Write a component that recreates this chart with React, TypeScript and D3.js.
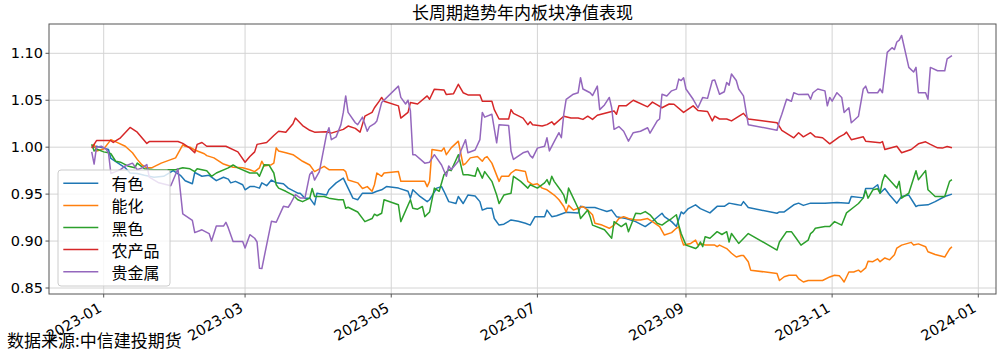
import React from 'react';
import * as d3 from 'd3';

const TITLE = '长周期趋势年内板块净值表现';
const SOURCE = '数据来源:中信建投期货';
const seriesNames = ['有色', '能化', '黑色', '农产品', '贵金属'];
const seriesColors = ['#1f77b4', '#ff7f0e', '#2ca02c', '#d62728', '#9467bd'];
const yTicks = [0.85, 0.9, 0.95, 1.0, 1.05, 1.1];
const xTickLabels = ['2023-01', '2023-03', '2023-05', '2023-07', '2023-09', '2023-11', '2024-01'];

type P = [string, number];

const youse: P[] = [
  ['2022-12-27', 1.001], ['2022-12-28', 1.0], ['2022-12-29', 1.001], ['2023-01-01', 0.999], ['2023-01-03', 0.9975],
  ['2023-01-04', 0.988], ['2023-01-07', 0.983], ['2023-01-10', 0.978], ['2023-01-12', 0.9725], ['2023-01-15', 0.972],
  ['2023-01-18', 0.97], ['2023-01-22', 0.968], ['2023-01-26', 0.969], ['2023-01-30', 0.975], ['2023-02-02', 0.97],
  ['2023-02-04', 0.9643], ['2023-02-07', 0.961], ['2023-02-08', 0.973], ['2023-02-11', 0.969], ['2023-02-14', 0.97],
  ['2023-02-17', 0.9643], ['2023-02-20', 0.968], ['2023-02-22', 0.966], ['2023-02-23', 0.962], ['2023-02-25', 0.9636],
  ['2023-02-28', 0.96], ['2023-03-01', 0.9546], ['2023-03-03', 0.958], ['2023-03-05', 0.958], ['2023-03-07', 0.9564],
  ['2023-03-08', 0.962], ['2023-03-10', 0.959], ['2023-03-12', 0.965], ['2023-03-14', 0.962], ['2023-03-17', 0.961],
  ['2023-03-19', 0.9564], ['2023-03-23', 0.951], ['2023-03-24', 0.951], ['2023-03-26', 0.9457], ['2023-03-28', 0.9457],
  ['2023-03-30', 0.9386], ['2023-03-31', 0.951], ['2023-04-04', 0.949], ['2023-04-05', 0.9546], ['2023-04-08', 0.962],
  ['2023-04-11', 0.967], ['2023-04-13', 0.9564], ['2023-04-15', 0.9457], ['2023-04-17', 0.944], ['2023-04-19', 0.951],
  ['2023-04-23', 0.951], ['2023-04-25', 0.953], ['2023-04-27', 0.9546], ['2023-04-29', 0.958], ['2023-05-04', 0.9564],
  ['2023-05-08', 0.953], ['2023-05-09', 0.9457], ['2023-05-10', 0.9546], ['2023-05-13', 0.9475], ['2023-05-16', 0.942],
  ['2023-05-17', 0.944], ['2023-05-20', 0.9564], ['2023-05-22', 0.958], ['2023-05-23', 0.953], ['2023-05-25', 0.942],
  ['2023-05-28', 0.94], ['2023-05-29', 0.9475], ['2023-05-31', 0.94], ['2023-06-02', 0.949], ['2023-06-05', 0.948],
  ['2023-06-07', 0.942], ['2023-06-08', 0.933], ['2023-06-10', 0.935], ['2023-06-12', 0.935], ['2023-06-13', 0.924],
  ['2023-06-15', 0.917], ['2023-06-17', 0.918], ['2023-06-20', 0.9225], ['2023-06-23', 0.921], ['2023-06-26', 0.919],
  ['2023-06-28', 0.917], ['2023-06-30', 0.926], ['2023-07-04', 0.926], ['2023-07-05', 0.933], ['2023-07-07', 0.926],
  ['2023-07-09', 0.927], ['2023-07-13', 0.9307], ['2023-07-18', 0.93], ['2023-07-19', 0.937], ['2023-07-21', 0.9357],
  ['2023-07-25', 0.9357], ['2023-07-27', 0.934], ['2023-07-30', 0.9314], ['2023-08-01', 0.933], ['2023-08-03', 0.926],
  ['2023-08-07', 0.924], ['2023-08-11', 0.9207], ['2023-08-15', 0.9154], ['2023-08-17', 0.919], ['2023-08-22', 0.9296],
  ['2023-08-23', 0.926], ['2023-08-26', 0.9207], ['2023-08-28', 0.9154], ['2023-08-30', 0.931], ['2023-08-31', 0.929],
  ['2023-09-02', 0.9346], ['2023-09-05', 0.9386], ['2023-09-07', 0.9346], ['2023-09-11', 0.93], ['2023-09-14', 0.937],
  ['2023-09-17', 0.937], ['2023-09-19', 0.9404], ['2023-09-22', 0.939], ['2023-09-24', 0.938], ['2023-09-25', 0.942],
  ['2023-09-27', 0.9357], ['2023-10-09', 0.9296], ['2023-10-10', 0.931], ['2023-10-12', 0.931], ['2023-10-16', 0.9386],
  ['2023-10-18', 0.9404], ['2023-10-20', 0.938], ['2023-10-23', 0.9404], ['2023-10-25', 0.9404], ['2023-10-29', 0.9404],
  ['2023-11-03', 0.941], ['2023-11-08', 0.9404], ['2023-11-09', 0.9475], ['2023-11-14', 0.946], ['2023-11-15', 0.956],
  ['2023-11-18', 0.956], ['2023-11-20', 0.96], ['2023-11-21', 0.951], ['2023-11-23', 0.956], ['2023-11-25', 0.949],
  ['2023-11-28', 0.9404], ['2023-11-30', 0.9475], ['2023-12-03', 0.949], ['2023-12-06', 0.9368], ['2023-12-07', 0.938],
  ['2023-12-11', 0.9386], ['2023-12-14', 0.942], ['2023-12-18', 0.9475], ['2023-12-21', 0.95],
];

const nenghua: P[] = [
  ['2022-12-27', 1.001], ['2022-12-28', 1.003], ['2022-12-29', 0.996], ['2023-01-01', 0.998], ['2023-01-03', 1.0046],
  ['2023-01-04', 1.008], ['2023-01-07', 1.0046], ['2023-01-10', 1.001], ['2023-01-13', 0.994], ['2023-01-15', 0.987],
  ['2023-01-17', 0.981], ['2023-01-19', 0.978], ['2023-01-21', 0.978], ['2023-01-25', 0.983], ['2023-01-31', 0.9886],
  ['2023-02-03', 1.0025], ['2023-02-04', 1.001], ['2023-02-06', 1.0], ['2023-02-08', 0.997], ['2023-02-12', 0.993],
  ['2023-02-13', 0.991], ['2023-02-16', 0.9886], ['2023-02-20', 0.982], ['2023-02-24', 0.9786], ['2023-02-28', 0.978],
  ['2023-03-03', 0.976], ['2023-03-05', 0.974], ['2023-03-07', 0.978], ['2023-03-08', 0.985], ['2023-03-09', 0.98],
  ['2023-03-12', 0.9814], ['2023-03-13', 0.983], ['2023-03-14', 0.9993], ['2023-03-15', 0.996], ['2023-03-18', 0.994],
  ['2023-03-21', 0.992], ['2023-03-25', 0.985], ['2023-03-28', 0.981], ['2023-03-30', 0.974], ['2023-04-03', 0.9796],
  ['2023-04-05', 0.976], ['2023-04-11', 0.976], ['2023-04-12', 0.974], ['2023-04-13', 0.965], ['2023-04-17', 0.962],
  ['2023-04-19', 0.956], ['2023-04-21', 0.958], ['2023-04-23', 0.953], ['2023-04-24', 0.96], ['2023-04-25', 0.9725],
  ['2023-04-27', 0.969], ['2023-04-28', 0.9725], ['2023-05-04', 0.974], ['2023-05-05', 0.9636], ['2023-05-06', 0.9636],
  ['2023-05-09', 0.9636], ['2023-05-15', 0.9636], ['2023-05-16', 0.958], ['2023-05-17', 0.9636], ['2023-05-18', 0.9975],
  ['2023-05-22', 0.996], ['2023-05-23', 0.9993], ['2023-05-24', 0.992], ['2023-05-26', 0.9993], ['2023-05-29', 1.0064],
  ['2023-05-31', 0.981], ['2023-06-01', 0.9825], ['2023-06-03', 0.9886], ['2023-06-06', 0.99], ['2023-06-08', 0.985],
  ['2023-06-09', 0.9886], ['2023-06-10', 0.99], ['2023-06-12', 0.983], ['2023-06-15', 0.9636], ['2023-06-16', 0.969],
  ['2023-06-19', 0.969], ['2023-06-20', 0.9725], ['2023-06-22', 0.976], ['2023-06-26', 0.974], ['2023-06-27', 0.9636],
  ['2023-06-29', 0.96], ['2023-07-01', 0.961], ['2023-07-03', 0.9564], ['2023-07-05', 0.9546], ['2023-07-08', 0.949],
  ['2023-07-10', 0.944], ['2023-07-12', 0.9368], ['2023-07-13', 0.931], ['2023-07-14', 0.938], ['2023-07-16', 0.933],
  ['2023-07-18', 0.935], ['2023-07-20', 0.9368], ['2023-07-22', 0.933], ['2023-07-24', 0.928], ['2023-07-25', 0.919],
  ['2023-07-28', 0.917], ['2023-07-31', 0.9136], ['2023-08-02', 0.917], ['2023-08-04', 0.924], ['2023-08-06', 0.926],
  ['2023-08-08', 0.924], ['2023-08-11', 0.9225], ['2023-08-13', 0.9225], ['2023-08-16', 0.924], ['2023-08-18', 0.9207],
  ['2023-08-21', 0.9154], ['2023-08-23', 0.9064], ['2023-08-26', 0.909], ['2023-08-28', 0.9136], ['2023-08-29', 0.9154],
  ['2023-08-30', 0.903], ['2023-08-31', 0.8957], ['2023-09-03', 0.8975], ['2023-09-05', 0.901], ['2023-09-06', 0.8957],
  ['2023-09-08', 0.897], ['2023-09-09', 0.8957], ['2023-09-13', 0.8957], ['2023-09-14', 0.894], ['2023-09-15', 0.8957],
  ['2023-09-18', 0.892], ['2023-09-20', 0.887], ['2023-09-22', 0.883], ['2023-09-24', 0.8846], ['2023-09-25', 0.8846],
  ['2023-09-27', 0.8779], ['2023-09-28', 0.869], ['2023-10-09', 0.8654], ['2023-10-10', 0.858], ['2023-10-12', 0.862],
  ['2023-10-14', 0.8636], ['2023-10-17', 0.8636], ['2023-10-18', 0.86], ['2023-10-20', 0.8564], ['2023-10-22', 0.858],
  ['2023-10-28', 0.858], ['2023-10-31', 0.8618], ['2023-11-02', 0.8636], ['2023-11-04', 0.863], ['2023-11-05', 0.86],
  ['2023-11-06', 0.8564], ['2023-11-08', 0.867], ['2023-11-10', 0.867], ['2023-11-12', 0.869], ['2023-11-13', 0.867],
  ['2023-11-15', 0.8714], ['2023-11-16', 0.8786], ['2023-11-18', 0.878], ['2023-11-20', 0.881], ['2023-11-21', 0.878],
  ['2023-11-23', 0.882], ['2023-11-25', 0.88], ['2023-11-27', 0.8854], ['2023-11-28', 0.8925], ['2023-11-30', 0.8957],
  ['2023-12-04', 0.8986], ['2023-12-05', 0.8957], ['2023-12-07', 0.897], ['2023-12-10', 0.894], ['2023-12-11', 0.8886],
  ['2023-12-14', 0.8857], ['2023-12-18', 0.883], ['2023-12-20', 0.8914], ['2023-12-21', 0.894],
];

const heise: P[] = [
  ['2022-12-27', 1.003], ['2022-12-28', 0.996], ['2022-12-29', 0.998], ['2023-01-01', 0.995], ['2023-01-03', 0.994],
  ['2023-01-04', 0.993], ['2023-01-06', 0.985], ['2023-01-08', 0.984], ['2023-01-11', 0.98], ['2023-01-14', 0.978],
  ['2023-01-15', 0.983], ['2023-01-18', 0.977], ['2023-01-22', 0.976], ['2023-01-28', 0.976], ['2023-01-31', 0.976],
  ['2023-02-03', 0.978], ['2023-02-06', 0.977], ['2023-02-08', 0.974], ['2023-02-09', 0.977], ['2023-02-13', 0.975],
  ['2023-02-15', 0.969], ['2023-02-17', 0.9725], ['2023-02-22', 0.978], ['2023-02-24', 0.981], ['2023-02-26', 0.978],
  ['2023-03-03', 0.9725], ['2023-03-06', 0.9725], ['2023-03-07', 0.969], ['2023-03-09', 0.9814], ['2023-03-11', 0.981],
  ['2023-03-13', 0.9725], ['2023-03-14', 0.96], ['2023-03-15', 0.9564], ['2023-03-18', 0.953], ['2023-03-21', 0.949],
  ['2023-03-23', 0.944], ['2023-03-25', 0.942], ['2023-03-28', 0.9457], ['2023-03-29', 0.956], ['2023-03-30', 0.9475],
  ['2023-04-03', 0.9475], ['2023-04-05', 0.9457], ['2023-04-09', 0.944], ['2023-04-11', 0.944], ['2023-04-12', 0.935],
  ['2023-04-13', 0.936], ['2023-04-17', 0.931], ['2023-04-20', 0.9207], ['2023-04-23', 0.924], ['2023-04-24', 0.9286],
  ['2023-04-25', 0.927], ['2023-04-27', 0.9296], ['2023-04-28', 0.944], ['2023-05-04', 0.9386], ['2023-05-05', 0.9207],
  ['2023-05-09', 0.944], ['2023-05-10', 0.935], ['2023-05-12', 0.934], ['2023-05-14', 0.9368], ['2023-05-15', 0.926],
  ['2023-05-17', 0.931], ['2023-05-19', 0.9564], ['2023-05-21', 0.953], ['2023-05-23', 0.9707], ['2023-05-25', 0.976],
  ['2023-05-26', 0.975], ['2023-05-29', 0.992], ['2023-05-31', 0.9707], ['2023-06-02', 0.9707], ['2023-06-05', 0.969],
  ['2023-06-06', 0.978], ['2023-06-08', 0.967], ['2023-06-09', 0.974], ['2023-06-12', 0.9636], ['2023-06-14', 0.949],
  ['2023-06-15', 0.94], ['2023-06-17', 0.949], ['2023-06-20', 0.951], ['2023-06-21', 0.969], ['2023-06-24', 0.9636],
  ['2023-06-27', 0.9564], ['2023-06-28', 0.96], ['2023-07-01', 0.9564], ['2023-07-04', 0.962], ['2023-07-05', 0.9654],
  ['2023-07-06', 0.96], ['2023-07-07', 0.969], ['2023-07-08', 0.9636], ['2023-07-11', 0.953], ['2023-07-12', 0.949],
  ['2023-07-13', 0.9404], ['2023-07-14', 0.9564], ['2023-07-16', 0.9457], ['2023-07-18', 0.935], ['2023-07-19', 0.924],
  ['2023-07-22', 0.933], ['2023-07-23', 0.926], ['2023-07-24', 0.917], ['2023-07-29', 0.912], ['2023-08-01', 0.903],
  ['2023-08-02', 0.9207], ['2023-08-05', 0.9154], ['2023-08-07', 0.919], ['2023-08-08', 0.91], ['2023-08-11', 0.9296],
  ['2023-08-13', 0.929], ['2023-08-15', 0.9314], ['2023-08-17', 0.928], ['2023-08-20', 0.919], ['2023-08-22', 0.917],
  ['2023-08-24', 0.9207], ['2023-08-26', 0.924], ['2023-08-28', 0.928], ['2023-08-29', 0.917], ['2023-08-30', 0.908],
  ['2023-09-01', 0.8957], ['2023-09-03', 0.894], ['2023-09-05', 0.892], ['2023-09-06', 0.894], ['2023-09-07', 0.899],
  ['2023-09-08', 0.894], ['2023-09-09', 0.9046], ['2023-09-11', 0.903], ['2023-09-14', 0.91], ['2023-09-16', 0.907],
  ['2023-09-18', 0.91], ['2023-09-19', 0.899], ['2023-09-20', 0.908], ['2023-09-23', 0.8975], ['2023-09-27', 0.908],
  ['2023-10-09', 0.8904], ['2023-10-10', 0.899], ['2023-10-13', 0.91], ['2023-10-15', 0.91], ['2023-10-17', 0.903],
  ['2023-10-19', 0.8957], ['2023-10-22', 0.901], ['2023-10-23', 0.908], ['2023-10-24', 0.91], ['2023-10-25', 0.9136],
  ['2023-10-29', 0.9154], ['2023-10-31', 0.9154], ['2023-11-02', 0.9207], ['2023-11-05', 0.917], ['2023-11-07', 0.93],
  ['2023-11-10', 0.936], ['2023-11-12', 0.94], ['2023-11-14', 0.946], ['2023-11-15', 0.954], ['2023-11-16', 0.9457],
  ['2023-11-18', 0.9546], ['2023-11-20', 0.9557], ['2023-11-21', 0.951], ['2023-11-22', 0.9636], ['2023-11-23', 0.9707],
  ['2023-11-28', 0.9564], ['2023-11-29', 0.9636], ['2023-11-30', 0.9457], ['2023-12-03', 0.951], ['2023-12-06', 0.975],
  ['2023-12-07', 0.9654], ['2023-12-10', 0.975], ['2023-12-11', 0.9546], ['2023-12-14', 0.9475], ['2023-12-18', 0.9475],
  ['2023-12-20', 0.9636], ['2023-12-21', 0.9654],
];

const nongchanpin: P[] = [
  ['2022-12-27', 0.999], ['2022-12-29', 1.007], ['2023-01-04', 1.007], ['2023-01-05', 1.005], ['2023-01-08', 1.01],
  ['2023-01-12', 1.021], ['2023-01-15', 1.016], ['2023-01-19', 1.004], ['2023-01-20', 1.006], ['2023-02-01', 1.006],
  ['2023-02-03', 1.004], ['2023-02-06', 0.999], ['2023-02-08', 0.994], ['2023-02-09', 1.003], ['2023-02-11', 1.005],
  ['2023-02-13', 1.001], ['2023-02-21', 1.001], ['2023-02-26', 0.995], ['2023-03-01', 0.984], ['2023-03-03', 0.99],
  ['2023-03-05', 0.995], ['2023-03-06', 1.003], ['2023-03-10', 1.005], ['2023-03-13', 1.0125], ['2023-03-15', 1.017],
  ['2023-03-18', 1.016], ['2023-03-21', 1.025], ['2023-03-22', 1.031], ['2023-03-25', 1.023], ['2023-03-28', 1.018],
  ['2023-03-30', 1.016], ['2023-04-04', 1.0165], ['2023-04-06', 1.015], ['2023-04-11', 1.019], ['2023-04-13', 1.0225],
  ['2023-04-16', 1.02], ['2023-04-18', 1.016], ['2023-04-20', 1.033], ['2023-04-23', 1.037], ['2023-04-24', 1.042],
  ['2023-04-26', 1.049], ['2023-04-27', 1.053], ['2023-04-28', 1.049], ['2023-05-04', 1.044], ['2023-05-05', 1.031],
  ['2023-05-08', 1.037], ['2023-05-09', 1.0475], ['2023-05-12', 1.046], ['2023-05-16', 1.0546], ['2023-05-17', 1.051],
  ['2023-05-19', 1.0618], ['2023-05-23', 1.061], ['2023-05-24', 1.056], ['2023-05-27', 1.057], ['2023-05-29', 1.067],
  ['2023-05-31', 1.058], ['2023-06-02', 1.0557], ['2023-06-07', 1.0557], ['2023-06-08', 1.049], ['2023-06-12', 1.049],
  ['2023-06-13', 1.04], ['2023-06-15', 1.03], ['2023-06-19', 1.03], ['2023-06-20', 1.04], ['2023-06-21', 1.036],
  ['2023-06-25', 1.031], ['2023-06-27', 1.024], ['2023-06-28', 1.027], ['2023-06-29', 1.024], ['2023-07-03', 1.0225],
  ['2023-07-05', 1.024], ['2023-07-07', 1.027], ['2023-07-08', 1.024], ['2023-07-12', 1.033], ['2023-07-15', 1.031],
  ['2023-07-18', 1.031], ['2023-07-20', 1.0296], ['2023-07-22', 1.033], ['2023-07-24', 1.0296], ['2023-07-26', 1.034],
  ['2023-08-01', 1.038], ['2023-08-02', 1.0386], ['2023-08-03', 1.035], ['2023-08-04', 1.044], ['2023-08-07', 1.044],
  ['2023-08-10', 1.05], ['2023-08-16', 1.043], ['2023-08-18', 1.048], ['2023-08-20', 1.045], ['2023-08-22', 1.042],
  ['2023-08-25', 1.046], ['2023-08-27', 1.0457], ['2023-08-31', 1.037], ['2023-09-04', 1.044], ['2023-09-06', 1.039],
  ['2023-09-10', 1.038], ['2023-09-12', 1.028], ['2023-09-13', 1.033], ['2023-09-15', 1.03], ['2023-09-18', 1.03],
  ['2023-09-20', 1.028], ['2023-09-25', 1.036], ['2023-09-27', 1.03], ['2023-10-09', 1.026], ['2023-10-11', 1.018],
  ['2023-10-16', 1.01], ['2023-10-18', 1.0154], ['2023-10-20', 1.011], ['2023-10-23', 1.0154], ['2023-10-25', 1.011],
  ['2023-10-28', 1.01], ['2023-10-31', 1.0036], ['2023-11-04', 1.011], ['2023-11-06', 1.0136], ['2023-11-07', 1.016],
  ['2023-11-09', 1.008], ['2023-11-14', 1.011], ['2023-11-15', 1.0064], ['2023-11-21', 1.0046], ['2023-11-22', 1.006],
  ['2023-11-23', 0.9975], ['2023-11-28', 1.001], ['2023-11-30', 0.994], ['2023-12-04', 0.9975], ['2023-12-07', 1.0036],
  ['2023-12-10', 1.0057], ['2023-12-12', 1.003], ['2023-12-15', 0.9993], ['2023-12-17', 0.999], ['2023-12-19', 1.0007],
  ['2023-12-21', 0.9993],
];

const guijinshu: P[] = [
  ['2022-12-27', 0.995], ['2022-12-28', 0.982], ['2022-12-29', 1.0], ['2022-12-31', 1.001], ['2023-01-02', 0.998],
  ['2023-01-03', 0.994], ['2023-01-04', 0.972], ['2023-01-06', 0.974], ['2023-01-08', 0.976], ['2023-01-10', 0.98],
  ['2023-01-13', 0.983], ['2023-01-15', 0.976], ['2023-01-17', 0.978], ['2023-01-19', 0.9815], ['2023-01-20', 0.968],
  ['2023-01-24', 0.962], ['2023-01-29', 0.959], ['2023-02-01', 0.977], ['2023-02-03', 0.929], ['2023-02-07', 0.922],
  ['2023-02-08', 0.909], ['2023-02-11', 0.912], ['2023-02-14', 0.908], ['2023-02-15', 0.9], ['2023-02-17', 0.916],
  ['2023-02-20', 0.916], ['2023-02-21', 0.92], ['2023-02-22', 0.914], ['2023-02-24', 0.8996], ['2023-02-28', 0.8996],
  ['2023-03-01', 0.8925], ['2023-03-03', 0.9068], ['2023-03-05', 0.903], ['2023-03-06', 0.899], ['2023-03-07', 0.871],
  ['2023-03-08', 0.8707], ['2023-03-10', 0.896], ['2023-03-12', 0.921], ['2023-03-14', 0.92], ['2023-03-17', 0.937],
  ['2023-03-19', 0.936], ['2023-03-20', 0.94], ['2023-03-22', 0.9495], ['2023-03-24', 0.946], ['2023-03-26', 0.946],
  ['2023-03-28', 0.971], ['2023-03-29', 0.974], ['2023-03-30', 0.965], ['2023-04-01', 0.974], ['2023-04-04', 1.0136],
  ['2023-04-05', 1.0207], ['2023-04-06', 1.008], ['2023-04-08', 1.011], ['2023-04-10', 1.024], ['2023-04-11', 1.037],
  ['2023-04-12', 1.0546], ['2023-04-13', 1.037], ['2023-04-16', 1.026], ['2023-04-17', 1.024], ['2023-04-19', 1.032],
  ['2023-04-21', 1.017], ['2023-04-22', 1.022], ['2023-04-24', 1.025], ['2023-04-25', 1.028], ['2023-04-27', 1.0475],
  ['2023-05-04', 1.065], ['2023-05-05', 1.053], ['2023-05-07', 1.046], ['2023-05-08', 1.05], ['2023-05-09', 1.0386],
  ['2023-05-10', 0.992], ['2023-05-11', 0.992], ['2023-05-15', 0.983], ['2023-05-17', 0.984], ['2023-05-19', 0.992],
  ['2023-05-22', 0.981], ['2023-05-24', 0.969], ['2023-05-25', 0.98], ['2023-05-26', 0.976], ['2023-05-29', 0.985],
  ['2023-05-30', 0.9957], ['2023-06-01', 1.008], ['2023-06-02', 0.994], ['2023-06-05', 0.997], ['2023-06-07', 1.008],
  ['2023-06-08', 1.037], ['2023-06-09', 1.032], ['2023-06-12', 1.035], ['2023-06-14', 1.0046], ['2023-06-15', 1.024],
  ['2023-06-19', 1.023], ['2023-06-20', 0.9957], ['2023-06-21', 0.987], ['2023-06-25', 0.994], ['2023-06-27', 0.9957],
  ['2023-06-28', 0.991], ['2023-06-29', 0.9886], ['2023-07-01', 0.999], ['2023-07-04', 1.001], ['2023-07-05', 1.01],
  ['2023-07-06', 0.996], ['2023-07-08', 1.006], ['2023-07-10', 1.0154], ['2023-07-11', 1.01], ['2023-07-12', 1.035],
  ['2023-07-13', 1.051], ['2023-07-16', 1.0564], ['2023-07-18', 1.058], ['2023-07-19', 1.074], ['2023-07-20', 1.062],
  ['2023-07-23', 1.058], ['2023-07-24', 1.055], ['2023-07-26', 1.065], ['2023-07-27', 1.04], ['2023-07-29', 1.045],
  ['2023-07-31', 1.053], ['2023-08-01', 1.042], ['2023-08-02', 1.019], ['2023-08-04', 1.022], ['2023-08-06', 1.017],
  ['2023-08-08', 1.0064], ['2023-08-10', 1.0154], ['2023-08-13', 1.017], ['2023-08-16', 1.0207], ['2023-08-17', 1.015],
  ['2023-08-20', 1.028], ['2023-08-21', 1.03], ['2023-08-22', 1.0564], ['2023-08-24', 1.0546], ['2023-08-26', 1.06],
  ['2023-08-28', 1.0618], ['2023-08-29', 1.0725], ['2023-08-30', 1.071], ['2023-08-31', 1.074], ['2023-09-01', 1.062],
  ['2023-09-04', 1.051], ['2023-09-06', 1.042], ['2023-09-08', 1.053], ['2023-09-10', 1.052], ['2023-09-12', 1.071],
  ['2023-09-13', 1.0715], ['2023-09-15', 1.0564], ['2023-09-17', 1.059], ['2023-09-18', 1.069], ['2023-09-19', 1.066],
  ['2023-09-20', 1.078], ['2023-09-22', 1.071], ['2023-09-23', 1.062], ['2023-09-25', 1.0546], ['2023-09-27', 1.024],
  ['2023-10-09', 1.018], ['2023-10-10', 1.028], ['2023-10-11', 1.035], ['2023-10-13', 1.051], ['2023-10-15', 1.049],
  ['2023-10-16', 1.058], ['2023-10-18', 1.056], ['2023-10-22', 1.0564], ['2023-10-23', 1.051], ['2023-10-24', 1.058],
  ['2023-10-26', 1.062], ['2023-10-29', 1.06], ['2023-10-30', 1.044], ['2023-10-31', 1.053], ['2023-11-01', 1.049],
  ['2023-11-03', 1.058], ['2023-11-05', 1.053], ['2023-11-06', 1.037], ['2023-11-08', 1.042], ['2023-11-09', 1.026],
  ['2023-11-12', 1.033], ['2023-11-14', 1.062], ['2023-11-15', 1.065], ['2023-11-16', 1.058], ['2023-11-20', 1.058],
  ['2023-11-21', 1.062], ['2023-11-22', 1.058], ['2023-11-24', 1.101], ['2023-11-26', 1.106], ['2023-11-27', 1.104],
  ['2023-11-28', 1.112], ['2023-11-29', 1.114], ['2023-11-30', 1.119], ['2023-12-03', 1.085], ['2023-12-05', 1.08],
  ['2023-12-06', 1.085], ['2023-12-07', 1.058], ['2023-12-10', 1.058], ['2023-12-11', 1.051], ['2023-12-12', 1.085],
  ['2023-12-15', 1.0814], ['2023-12-18', 1.0814], ['2023-12-19', 1.094], ['2023-12-21', 1.0975],
];

const seriesData: P[][] = [youse, nenghua, heise, nongchanpin, guijinshu];

const parseDay = d3.timeParse('%Y-%m-%d');
const parseMonth = d3.timeParse('%Y-%m');
const FONT = "'Noto Sans CJK SC', 'DejaVu Sans', sans-serif";
const TICK_FONT = "'DejaVu Sans', sans-serif";

export default function App() {
  const W = 1003;
  const H = 354;
  const box = { left: 49, right: 996, top: 24, bottom: 294 };

  const x = d3
    .scaleTime()
    .domain([parseMonth('2023-01') as Date, parseMonth('2024-01') as Date])
    .range([103.7, 978.3]);
  const y = d3.scaleLinear().domain([0.85, 1.1]).range([288, 53.3]);

  const line = d3
    .line<P>()
    .x((d) => x(parseDay(d[0]) as Date))
    .y((d) => y(d[1]));

  const fmtY = d3.format('.2f');
  const xTicks = xTickLabels.map((s) => ({ label: s, pos: x(parseMonth(s) as Date) }));

  const legend = { x: 58, y: 170, w: 112, h: 116, first: 183.3, step: 22.1 };

  return (
    <svg
      width={W}
      height={H}
      style={{ position: 'absolute', left: 0, top: 0, background: '#fff' }}
      fontFamily={FONT}
    >
      <defs>
        <clipPath id="plotClip">
          <rect x={box.left} y={box.top} width={box.right - box.left} height={box.bottom - box.top} />
        </clipPath>
      </defs>
      <rect x={0} y={0} width={W} height={H} fill="#fff" />

      <text x={(box.left + box.right) / 2} y={19} textAnchor="middle" fontSize={17} fill="#000">
        {TITLE}
      </text>

      {/* grid */}
      <g stroke="#d4d4d4" strokeWidth={1}>
        {xTicks.map((t) => (
          <line key={'gx' + t.label} x1={t.pos} x2={t.pos} y1={box.top} y2={box.bottom} />
        ))}
        {yTicks.map((v) => (
          <line key={'gy' + v} x1={box.left} x2={box.right} y1={y(v)} y2={y(v)} />
        ))}
      </g>

      {/* series */}
      <g clipPath="url(#plotClip)" fill="none" strokeWidth={1.5} strokeLinejoin="round" strokeLinecap="butt">
        {seriesData.map((s, i) => (
          <path key={seriesNames[i]} d={line(s) || ''} stroke={seriesColors[i]} />
        ))}
      </g>

      {/* spines */}
      <rect
        x={box.left}
        y={box.top}
        width={box.right - box.left}
        height={box.bottom - box.top}
        fill="none"
        stroke="#555"
        strokeWidth={1}
      />

      {/* y ticks */}
      <g fontFamily={TICK_FONT}>
        {yTicks.map((v) => (
          <g key={'yt' + v}>
            <line x1={box.left - 3.5} x2={box.left} y1={y(v)} y2={y(v)} stroke="#555" strokeWidth={1} />
            <text x={box.left - 6} y={y(v)} textAnchor="end" dominantBaseline="central" fontSize={14.5} fill="#000">
              {fmtY(v)}
            </text>
          </g>
        ))}
      </g>

      {/* x ticks */}
      <g fontFamily={TICK_FONT}>
        {xTicks.map((t) => (
          <g key={'xt' + t.label}>
            <line x1={t.pos} x2={t.pos} y1={box.bottom} y2={box.bottom + 3.5} stroke="#555" strokeWidth={1} />
            <text
              transform={`translate(${t.pos - 1},${box.bottom + 17}) rotate(-30)`}
              textAnchor="end"
              fontSize={14.5}
              fill="#000"
            >
              {t.label}
            </text>
          </g>
        ))}
      </g>

      {/* legend */}
      <g>
        <rect
          x={legend.x}
          y={legend.y}
          width={legend.w}
          height={legend.h}
          rx={3}
          fill="#fff"
          fillOpacity={0.8}
          stroke="#cccccc"
          strokeWidth={1}
        />
        {seriesNames.map((n, i) => {
          const ly = legend.first + i * legend.step;
          return (
            <g key={'lg' + n}>
              <line x1={63.3} x2={98.3} y1={ly} y2={ly} stroke={seriesColors[i]} strokeWidth={1.5} />
              <text x={111.5} y={ly} dominantBaseline="central" fontSize={16} fill="#000">
                {n}
              </text>
            </g>
          );
        })}
      </g>

      <text x={7} y={347} fontSize={17} fill="#000">
        {SOURCE}
      </text>
    </svg>
  );
}
